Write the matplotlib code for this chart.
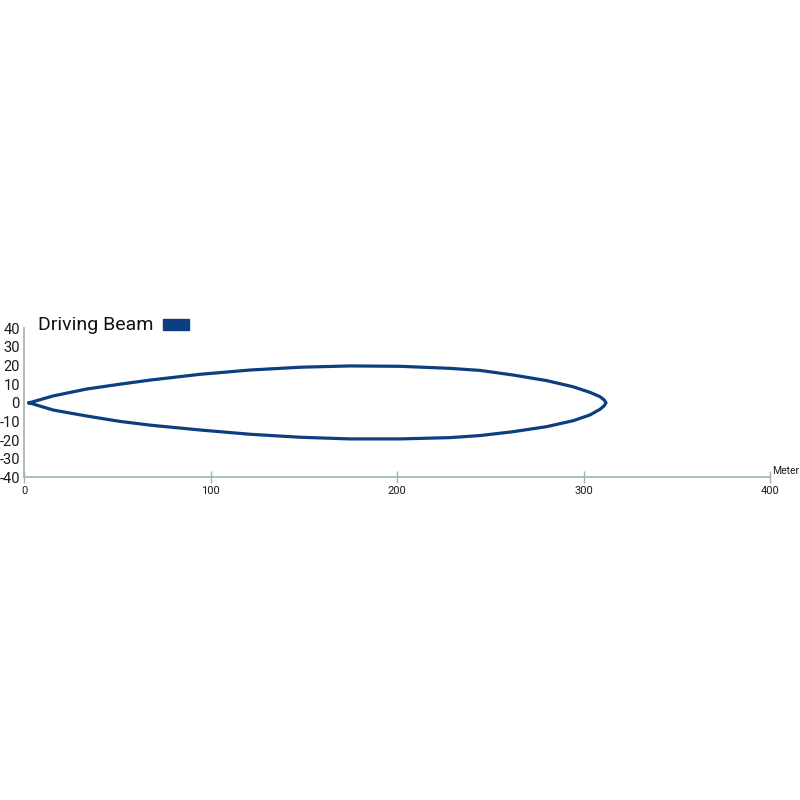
import matplotlib
matplotlib.use("Agg")
import matplotlib.pyplot as plt
from matplotlib.patches import Rectangle

# beam outline (distance in meters, lateral spread)
upper_x = [2.8, 15.7, 33.6, 51.5, 67.6, 94.4, 121.2, 148.0, 174.8, 201.6, 228.4, 244.5, 262.4, 280.3, 294.5, 303.5, 308.8, 311.0, 312.1]
upper_y = [0, 3.7, 7.4, 10.0, 12.2, 15.3, 17.6, 19.1, 19.8, 19.6, 18.5, 17.4, 14.9, 11.9, 8.6, 5.6, 3.3, 1.6, 0]
lower_x = [2.8, 15.7, 33.6, 51.5, 67.6, 94.4, 121.2, 148.0, 174.8, 201.6, 228.4, 244.5, 262.4, 280.3, 294.5, 303.5, 308.8, 311.0, 312.1]
lower_y = [0, -3.9, -7.1, -10.0, -12.0, -14.6, -16.9, -18.5, -19.4, -19.4, -18.7, -17.6, -15.5, -12.8, -9.6, -6.5, -3.5, -1.7, 0]

x_ticks = [0, 100, 200, 300, 400]
y_ticks = [-40, -30, -20, -10, 0, 10, 20, 30, 40]
legend_label = "Driving Beam"
x_unit = "Meter"

beam_color = "#0d3e80"
axis_color = "#9db3b6"
text_color = "#1a1a1a"

plt.rcParams["font.family"] = ["Roboto", "DejaVu Sans"]

fig = plt.figure(figsize=(8, 8), dpi=100)
ax = fig.add_axes([0.03, 0.4034, 0.9325, 0.1862])

# outline: upper edge out to the tip, lower edge back to the lamp
xs = upper_x + lower_x[::-1]
ys = upper_y + lower_y[::-1]
ax.plot(xs, ys, color=beam_color, lw=2.3, solid_joinstyle="round")

ax.set_xlim(0, 400)
ax.set_ylim(-40, 40)
ax.set_xticks(x_ticks)
ax.set_yticks(y_ticks)
ax.set_xticklabels([str(t) for t in x_ticks], fontsize=8, color=text_color)
ax.set_yticklabels([str(t) for t in y_ticks], fontsize=10.5, color=text_color)
ax.tick_params(axis="x", direction="inout", length=9, width=1, color=axis_color, pad=2)
ax.tick_params(axis="y", length=0, pad=3)

for side in ["top", "right"]:
    ax.spines[side].set_visible(False)
for side in ["left", "bottom"]:
    ax.spines[side].set_color(axis_color)
    ax.spines[side].set_linewidth(1.2)

ax.text(1.003, 0.01, x_unit, transform=ax.transAxes, fontsize=7.5,
        ha="left", va="bottom", color=text_color)

# legend drawn as text + swatch above the axes
fig.text(0.047, 0.594, legend_label, fontsize=14, ha="left", va="center", color="#111111")
fig.patches.append(Rectangle((0.204, 0.5875), 0.032, 0.0135, transform=fig.transFigure,
                             color=beam_color, zorder=5))

fig.savefig("out.png", dpi=100)
